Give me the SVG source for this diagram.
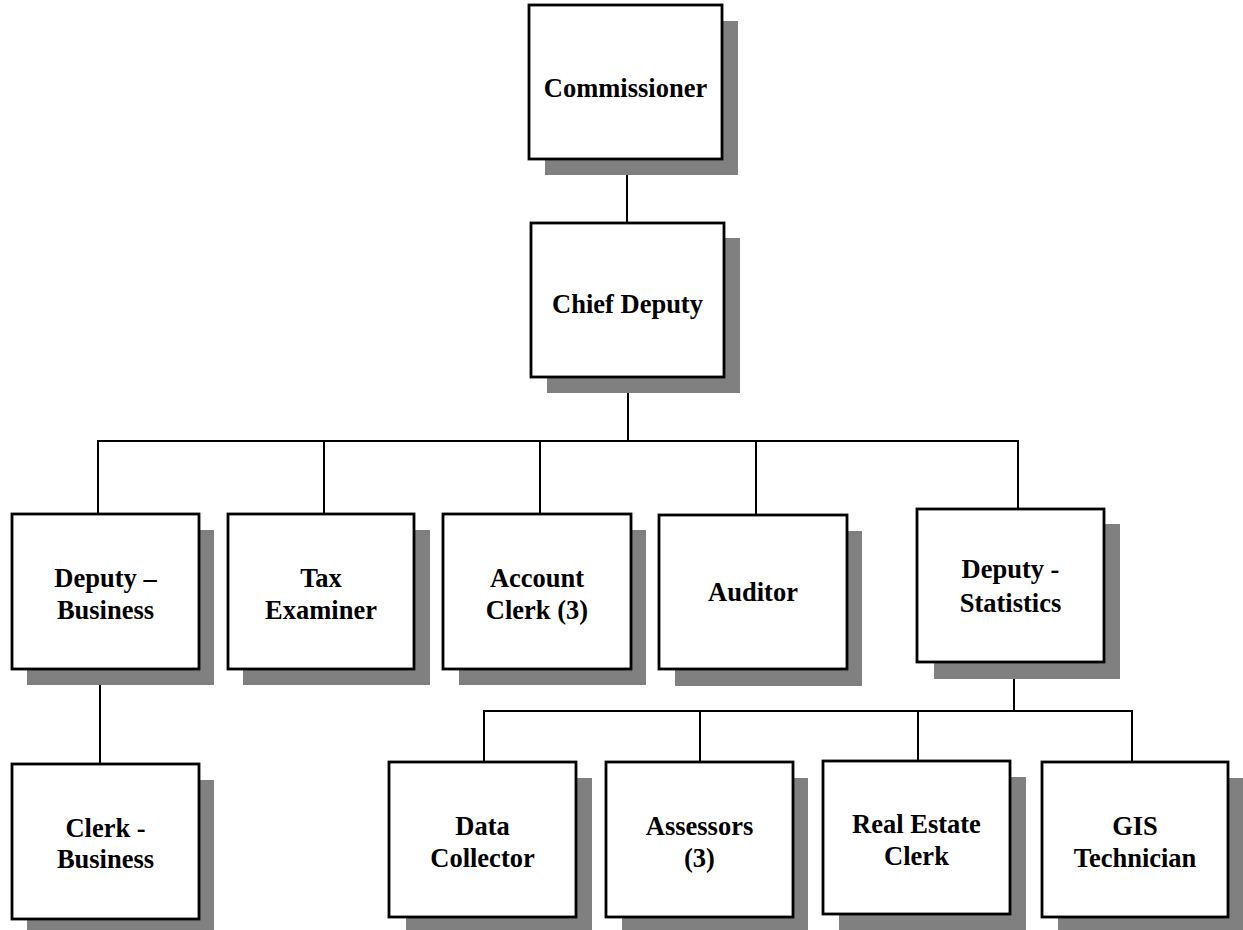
<svg xmlns="http://www.w3.org/2000/svg" width="1243" height="930" viewBox="0 0 1243 930">
  <style>
    .shadow { fill: #808080; }
    .box { fill: #ffffff; stroke: #000000; stroke-width: 2.8; }
    .label { font-family: "Liberation Serif", "Times New Roman", serif; font-weight: bold; font-size: 26.5px; fill: #000000; text-anchor: middle; }
    .conn { fill: none; stroke: #000000; stroke-width: 2; }
  </style>
  <rect width="1243" height="930" fill="#ffffff"/>

  <!-- reporting lines -->
  <g id="connectors">
    <line class="conn" x1="627" y1="159" x2="627" y2="223"/>
    <line class="conn" x1="628" y1="377" x2="628" y2="441"/>
    <polyline class="conn" points="98,514 98,441 1018,441 1018,509"/>
    <line class="conn" x1="324" y1="441" x2="324" y2="514"/>
    <line class="conn" x1="540" y1="441" x2="540" y2="514"/>
    <line class="conn" x1="756" y1="441" x2="756" y2="515"/>
    <line class="conn" x1="100" y1="669" x2="100" y2="764"/>
    <line class="conn" x1="1014" y1="662" x2="1014" y2="711"/>
    <polyline class="conn" points="484,762 484,711 1132,711 1132,762"/>
    <line class="conn" x1="700" y1="711" x2="700" y2="762"/>
    <line class="conn" x1="918" y1="711" x2="918" y2="761"/>
  </g>

  <g id="commissioner">
    <rect class="shadow" x="545" y="21" width="193" height="154"/>
    <rect class="box" x="529" y="5" width="193" height="154"/>
    <text class="label" x="625.5" y="97">Commissioner</text>
  </g>

  <g id="chief-deputy">
    <rect class="shadow" x="547" y="238" width="193" height="155"/>
    <rect class="box" x="531" y="223" width="193" height="154"/>
    <text class="label" x="627.5" y="313">Chief Deputy</text>
  </g>

  <g id="deputy-business">
    <rect class="shadow" x="27" y="530" width="187" height="155"/>
    <rect class="box" x="12" y="514" width="187" height="155"/>
    <text class="label" x="105.5" y="587">Deputy –</text>
    <text class="label" x="105.5" y="619">Business</text>
  </g>

  <g id="tax-examiner">
    <rect class="shadow" x="243" y="530" width="187" height="155"/>
    <rect class="box" x="228" y="514" width="186" height="155"/>
    <text class="label" x="321" y="587">Tax</text>
    <text class="label" x="321" y="619">Examiner</text>
  </g>

  <g id="account-clerk">
    <rect class="shadow" x="459" y="530" width="187" height="155"/>
    <rect class="box" x="443" y="514" width="188" height="155"/>
    <text class="label" x="537" y="587">Account</text>
    <text class="label" x="537" y="619">Clerk (3)</text>
  </g>

  <g id="auditor">
    <rect class="shadow" x="675" y="531" width="187" height="155"/>
    <rect class="box" x="659" y="515" width="188" height="154"/>
    <text class="label" x="753" y="601">Auditor</text>
  </g>

  <g id="deputy-statistics">
    <rect class="shadow" x="934" y="524" width="186" height="155"/>
    <rect class="box" x="917" y="509" width="187" height="153"/>
    <text class="label" x="1010.5" y="578">Deputy -</text>
    <text class="label" x="1010.5" y="612">Statistics</text>
  </g>

  <g id="clerk-business">
    <rect class="shadow" x="27" y="780" width="187" height="150"/>
    <rect class="box" x="12" y="764" width="187" height="155"/>
    <text class="label" x="105.5" y="837">Clerk -</text>
    <text class="label" x="105.5" y="868">Business</text>
  </g>

  <g id="data-collector">
    <rect class="shadow" x="406" y="778" width="186" height="152"/>
    <rect class="box" x="389" y="762" width="187" height="155"/>
    <text class="label" x="482.5" y="835">Data</text>
    <text class="label" x="482.5" y="867">Collector</text>
  </g>

  <g id="assessors">
    <rect class="shadow" x="622" y="778" width="186" height="152"/>
    <rect class="box" x="606" y="762" width="187" height="155"/>
    <text class="label" x="699.5" y="835">Assessors</text>
    <text class="label" x="699.5" y="867">(3)</text>
  </g>

  <g id="real-estate-clerk">
    <rect class="shadow" x="839" y="777" width="187" height="153"/>
    <rect class="box" x="823" y="761" width="187" height="153"/>
    <text class="label" x="916.5" y="833">Real Estate</text>
    <text class="label" x="916.5" y="865">Clerk</text>
  </g>

  <g id="gis-technician">
    <rect class="shadow" x="1058" y="778" width="185" height="152"/>
    <rect class="box" x="1042" y="762" width="186" height="155"/>
    <text class="label" x="1135" y="835">GIS</text>
    <text class="label" x="1135" y="867">Technician</text>
  </g>
</svg>
